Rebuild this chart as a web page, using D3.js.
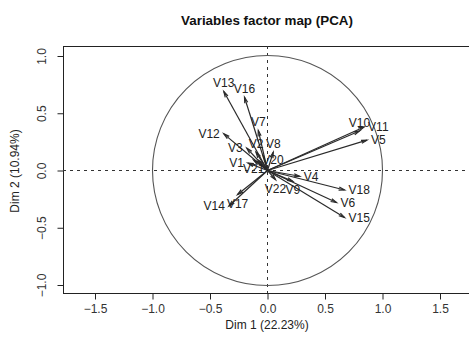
<!DOCTYPE html>
<html><head><meta charset="utf-8">
<script src="https://cdn.jsdelivr.net/npm/d3@7"></script>
<style>
html,body{margin:0;padding:0;background:#fff;}
svg{display:block;font-family:"Liberation Sans",Arial,sans-serif;}
</style></head>
<body>
<svg id="chart" width="469" height="352"></svg>
<script>
// ---- data ----
const variables = ["V13","V16","V7","V2","V8","V12","V3","V1","V21","V20","V10","V11","V5","V4","V18","V6","V15","V22","V9","V14","V17"];
const dim1 = [-0.38,-0.20,-0.08,-0.10,0.05,-0.38,-0.18,-0.17,-0.12,-0.08,0.80,0.84,0.865,0.28,0.67,0.60,0.67,0.07,0.22,-0.335,-0.26];
const dim2 = [0.69,0.64,0.35,0.16,0.16,0.32,0.195,0.065,0.09,0.09,0.345,0.38,0.265,-0.05,-0.17,-0.28,-0.41,-0.08,-0.095,-0.31,-0.21];
// label side, as in R text(pos=): 1 below, 2 left, 3 above, 4 right
const labelPos = [3,3,3,3,3,2,2,2,1,4,3,4,4,4,4,4,4,1,1,2,1];
const xTicks = [-1.5,-1.0,-0.5,0.0,0.5,1.0,1.5];
const yTicks = [-1.0,-0.5,0.0,0.5,1.0];
const title = "Variables factor map (PCA)";
const xTitle = "Dim 1 (22.23%)";
const yTitle = "Dim 2 (10.94%)";

// ---- layout ----
const svg = d3.select("#chart");
const plot = {left:63, top:46, bottom:293, right:473};
const x = d3.scaleLinear().domain([-1.5,1.5]).range([95,440]);
const y = d3.scaleLinear().domain([-1,1]).range([285,56]);
const ink = "#222";

svg.append("defs").append("clipPath").attr("id","clip")
  .append("rect").attr("x",plot.left).attr("y",plot.top)
  .attr("width",plot.right-plot.left).attr("height",plot.bottom-plot.top);

// title
svg.append("text").attr("x",267).attr("y",25).attr("text-anchor","middle")
  .attr("font-weight","bold").attr("font-size",13.4).attr("fill","#111").text(title);

// frame
svg.append("rect").attr("x",plot.left+0.5).attr("y",plot.top+0.5)
  .attr("width",plot.right-plot.left).attr("height",plot.bottom-plot.top)
  .attr("fill","none").attr("stroke",ink).attr("stroke-width",1);

// x axis
const xAxis = d3.axisBottom(x).tickValues(xTicks).tickSize(6).tickPadding(4)
  .tickFormat(d3.format(".1f"));
const gx = svg.append("g").attr("transform",`translate(0,${plot.bottom+0.5})`).call(xAxis);
gx.select(".domain").remove();
gx.selectAll("line").attr("stroke",ink);
gx.selectAll("text").attr("font-size",12).attr("fill","#333").attr("font-family","Liberation Sans, Arial, sans-serif")
  .attr("dy",null).attr("y",19);

// y axis
const yAxis = d3.axisLeft(y).tickValues(yTicks).tickSize(6).tickFormat(d3.format(".1f"));
const gy = svg.append("g").attr("transform",`translate(${plot.left+0.5},0)`).call(yAxis);
gy.select(".domain").remove();
gy.selectAll("line").attr("stroke",ink);
gy.selectAll("text").attr("font-size",12).attr("fill","#333").attr("font-family","Liberation Sans, Arial, sans-serif")
  .attr("text-anchor","middle").attr("x",null).attr("dy",null)
  .attr("transform","translate(-18,0) rotate(-90)");

// axis titles
svg.append("text").attr("x",267).attr("y",329).attr("text-anchor","middle")
  .attr("font-size",12).attr("fill","#222").text(xTitle);
svg.append("text").attr("transform","translate(19,171) rotate(-90)").attr("text-anchor","middle")
  .attr("font-size",12).attr("fill","#222").text(yTitle);

const g = svg.append("g").attr("clip-path","url(#clip)");

// reference lines
g.append("line").attr("x1",plot.left).attr("x2",plot.right).attr("y1",y(0)).attr("y2",y(0))
  .attr("stroke","#333").attr("stroke-dasharray","3,4");
g.append("line").attr("y1",plot.top).attr("y2",plot.bottom).attr("x1",x(0)).attr("x2",x(0))
  .attr("stroke","#333").attr("stroke-dasharray","3,4");

// correlation circle
g.append("circle").attr("cx",x(0)).attr("cy",y(0)).attr("r",x(1)-x(0))
  .attr("fill","none").attr("stroke","#555").attr("stroke-width",1.1);

// arrows
const data = variables.map((v,i)=>({name:v,dx:dim1[i],dy:dim2[i],pos:labelPos[i]}));
const headLen = 6, headAng = 15*Math.PI/180;
const ga = g.append("g");
data.forEach(d=>{
  const x0=x(0), y0=y(0), x1=x(d.dx), y1=y(d.dy);
  ga.append("line").attr("x1",x0).attr("y1",y0).attr("x2",x1).attr("y2",y1)
    .attr("stroke","#2a2a2a").attr("stroke-width",1.2);
  const a = Math.atan2(y1-y0,x1-x0);
  const p1=[x1-headLen*Math.cos(a-headAng), y1-headLen*Math.sin(a-headAng)];
  const p2=[x1-headLen*Math.cos(a+headAng), y1-headLen*Math.sin(a+headAng)];
  ga.append("path").attr("d",`M${p1[0]},${p1[1]}L${x1},${y1}L${p2[0]},${p2[1]}`)
    .attr("fill","none").attr("stroke","#2a2a2a").attr("stroke-width",1.2);
});

// labels
const off = 4;
g.append("g").selectAll("text").data(data).join("text")
  .attr("font-size",12).attr("fill","#222")
  .attr("x",d=> d.pos===2 ? x(d.dx)-off : d.pos===4 ? x(d.dx)+off : x(d.dx))
  .attr("y",d=> d.pos===3 ? y(d.dy)-off : d.pos===1 ? y(d.dy)+off+9 : y(d.dy)+4.3)
  .attr("text-anchor",d=> d.pos===2 ? "end" : d.pos===4 ? "start" : "middle")
  .text(d=>d.name);
</script>
</body></html>
